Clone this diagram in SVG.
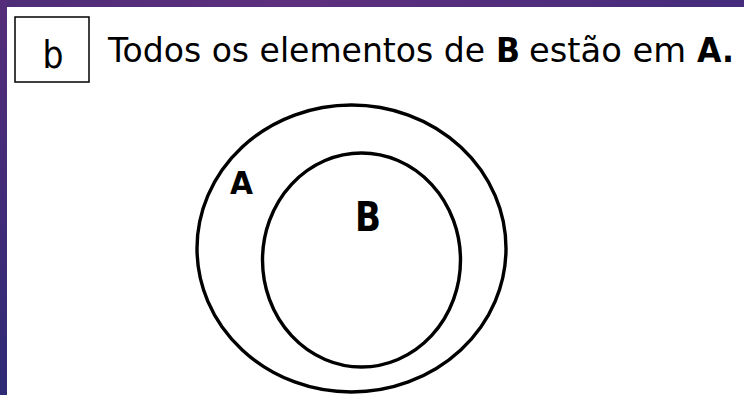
<svg xmlns="http://www.w3.org/2000/svg" width="744" height="395" viewBox="0 0 744 395">
  <defs>
    <linearGradient id="topbar" x1="0" y1="0" x2="1" y2="0">
      <stop offset="0" stop-color="#4e2d78"/>
      <stop offset="0.4" stop-color="#5e2f7e"/>
      <stop offset="1" stop-color="#452c7c"/>
    </linearGradient>
    <linearGradient id="leftbar" x1="0" y1="0" x2="0" y2="1">
      <stop offset="0" stop-color="#552d7a"/>
      <stop offset="1" stop-color="#2e2a76"/>
    </linearGradient>
    <style>
      .set { fill: none; stroke: #000; stroke-width: 3.4; }
      .txt { font-family: "DejaVu Sans", Verdana, sans-serif; fill: #000; }
      .bold { font-weight: bold; }
      .title { font-size: 34px; }
    </style>
  </defs>
  <rect x="0" y="0" width="744" height="395" fill="#ffffff"/>
  <rect x="0" y="0" width="744" height="7" fill="url(#topbar)"/>
  <rect x="0" y="0" width="7" height="395" fill="url(#leftbar)"/>

  <g id="label-box">
    <rect x="15" y="17" width="74" height="65" fill="#fff" stroke="#000" stroke-width="1.5"/>
    <text class="txt" x="53" y="68" font-size="37" text-anchor="middle" textLength="21" lengthAdjust="spacingAndGlyphs">b</text>
  </g>

  <g id="title">
    <text class="txt title" x="108" y="62" textLength="377" lengthAdjust="spacingAndGlyphs">Todos os elementos de</text>
    <text class="txt title bold" x="496" y="62" textLength="24" lengthAdjust="spacingAndGlyphs">B</text>
    <text class="txt title" x="529" y="62" textLength="157" lengthAdjust="spacingAndGlyphs">estão em</text>
    <text class="txt title bold" x="697" y="62" textLength="37" lengthAdjust="spacingAndGlyphs">A.</text>
  </g>

  <g id="set-A">
    <ellipse class="set" cx="351.5" cy="248.5" rx="154.5" ry="143.5"/>
    <text class="txt bold" x="230" y="194" font-size="32" textLength="23" lengthAdjust="spacingAndGlyphs">A</text>
  </g>

  <g id="set-B">
    <ellipse class="set" cx="361.5" cy="260" rx="99" ry="107"/>
    <text class="txt bold" x="355" y="231" font-size="40" textLength="26" lengthAdjust="spacingAndGlyphs">B</text>
  </g>

  <g id="connectors"/>
</svg>
